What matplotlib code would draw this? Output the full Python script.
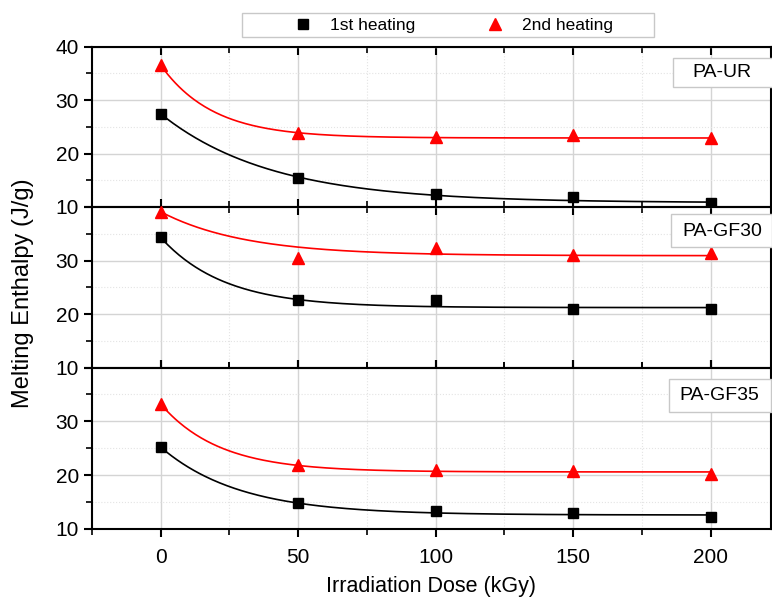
import numpy as np
import matplotlib
matplotlib.use('Agg')
import matplotlib.pyplot as plt
from matplotlib.lines import Line2D
from matplotlib.patches import Rectangle
from matplotlib.ticker import MultipleLocator

plt.rcParams['font.family'] = ['Liberation Sans', 'DejaVu Sans']

# irradiation dose (kGy)
dose = [0, 50, 100, 150, 200]
panels = ['PA-UR', 'PA-GF30', 'PA-GF35']

# melting enthalpy (J/g)
first_heat = [
    [27.4, 15.5, 12.4, 11.8, 10.7],
    [34.3, 22.7, 22.6, 20.9, 20.9],
    [25.3, 14.8, 13.3, 13.0, 12.2],
]
second_heat = [
    [36.5, 23.8, 23.0, 23.5, 22.9],
    [39.0, 30.4, 32.3, 31.0, 31.4],
    [33.2, 21.8, 21.0, 20.8, 20.2],
]

# exponential decay fits y = y0 + A*exp(-x/t), estimated from the drawn curves
fit_first = [(10.8, 16.6, 40.3), (21.2, 13.1, 23.1), (12.6, 12.6, 28.7)]
fit_second = [(22.9, 13.6, 19.0), (30.9, 8.2, 30.6), (20.6, 12.6, 21.3)]

W, H = 772, 601
fig = plt.figure(figsize=(W / 100, H / 100), dpi=100)


def fx(px):
    return px / W


def fy(py):
    return 1 - py / H


left, right = fx(92), fx(771)
edges = [46.5, 207, 367.5, 529]
axes = []
for i in range(3):
    axes.append(fig.add_axes([left, fy(edges[i + 1]), right - left,
                              fy(edges[i]) - fy(edges[i + 1])]))

xfit = np.linspace(0, 200, 300)
for i, ax in enumerate(axes):
    ax.set_xlim(-25, 222)
    ax.set_ylim(10, 40)
    ax.xaxis.set_major_locator(MultipleLocator(50))
    ax.xaxis.set_minor_locator(MultipleLocator(25))
    ax.yaxis.set_minor_locator(MultipleLocator(5))
    ax.grid(which='major', color='#d4d4d4', lw=1.0)
    ax.grid(which='minor', color='#e4e4e4', lw=0.8, ls=':')
    ax.set_axisbelow(True)

    y0, A, tt = fit_first[i]
    ax.plot(xfit, y0 + A * np.exp(-xfit / tt), color='black', lw=1.2, zorder=3)
    y0, A, tt = fit_second[i]
    ax.plot(xfit, y0 + A * np.exp(-xfit / tt), color='red', lw=1.2, zorder=3)
    ax.plot(dose, first_heat[i], 's', color='black', ms=7.5, zorder=4, clip_on=False)
    ax.plot(dose, second_heat[i], '^', color='red', ms=9, zorder=4, clip_on=False)

    for s in ax.spines.values():
        s.set_linewidth(1.5)
    ax.tick_params(axis='x', which='both', top=True, direction='in', labelsize=15)
    ax.tick_params(axis='x', which='major', length=6, width=1.5)
    ax.tick_params(axis='x', which='minor', length=4, width=1.2)
    ax.tick_params(axis='y', which='both', direction='out', right=True, labelsize=15)
    ax.tick_params(axis='y', which='major', length=6, width=1.5)
    ax.tick_params(axis='y', which='minor', length=4, width=1.2)
    if i < 2:
        ax.tick_params(axis='x', labelbottom=False)
    ax.set_yticks([10, 20, 30, 40])
    if i > 0:
        ax.set_yticklabels(['10', '20', '30', ''])

axes[2].tick_params(axis='x', which='both', bottom=True, direction='out', pad=8)
axes[2].set_xlabel('Irradiation Dose (kGy)', fontsize=15.5, labelpad=6)
fig.text(fx(23), fy(293), 'Melting Enthalpy (J/g)', rotation=90,
         ha='center', va='center', fontsize=17)

# panel name boxes (pixel positions of box and text)
label_boxes = [(673, 58, 790, 87, 692, 72.5),
               (671, 214, 772, 247, 682, 231),
               (669, 379, 771, 412, 679, 395.5)]
for name, (x0, y0, x1, y1, tx, ty) in zip(panels, label_boxes):
    fig.add_artist(Rectangle((fx(x0), fy(y1)), fx(x1) - fx(x0), fy(y0) - fy(y1),
                             transform=fig.transFigure, fc='white', ec='#c8c8c8',
                             lw=1, zorder=5))
    fig.text(fx(tx), fy(ty), name, ha='left', va='center', fontsize=14, zorder=6)

# legend
fig.add_artist(Rectangle((fx(242), fy(37)), fx(654) - fx(242), fy(13) - fy(37),
                         transform=fig.transFigure, fc='white', ec='#c8c8c8', lw=1,
                         zorder=5))
handles = [Line2D([], [], ls='none', marker='s', color='black', ms=7.5),
           Line2D([], [], ls='none', marker='^', color='red', ms=9)]
leg = fig.legend(handles, ['1st heating', '2nd heating'], loc='center left',
                 bbox_to_anchor=(fx(285.5), fy(25)), ncol=2, fontsize=12.5,
                 frameon=False, borderpad=0, borderaxespad=0,
                 handlelength=2.0, handletextpad=0.55, columnspacing=3.6)
leg.set_zorder(6)

fig.savefig('out.png', dpi=100)
